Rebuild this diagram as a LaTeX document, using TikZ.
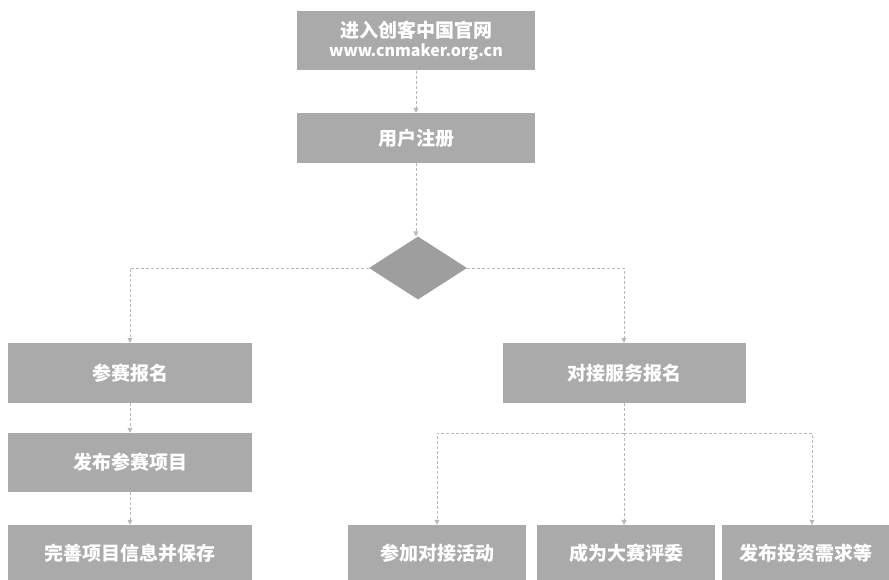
\documentclass[tikz,border=0pt]{standalone}
\usepackage{fontspec}
\newfontfamily\cjk{Noto Sans CJK SC}
\usetikzlibrary{shapes.geometric,arrows.meta}
\definecolor{boxgray}{RGB}{170,170,170}
\definecolor{diagray}{RGB}{158,158,158}
\definecolor{linegray}{RGB}{185,185,185}
\tikzset{
  box/.style={rectangle, fill=boxgray, text=white, inner sep=0pt, align=center,
    font=\cjk\bfseries\fontsize{19}{22}\selectfont},
  conn/.style={draw=linegray, line width=0.7pt, dash pattern=on 3pt off 2pt,
    -{Triangle[width=5pt,length=5pt,fill=linegray]}},
  plain/.style={draw=linegray, line width=0.7pt, dash pattern=on 3pt off 2pt}
}
\begin{document}
\begin{tikzpicture}[x=1pt,y=-1pt]
\useasboundingbox (0,0) rectangle (889,580);
\node[box, minimum width=238pt, minimum height=59pt] (top) at (416,41)
  {进入创客中国官网\\[-3pt]{\fontsize{16}{18}\selectfont www.cnmaker.org.cn}};
\node[box, minimum width=238pt, minimum height=50pt] (reg) at (416,138) {用户注册};
\node[diamond, fill=diagray, minimum width=98pt, minimum height=63pt, aspect=1.55, inner sep=0pt] (dia) at (418,268) {};
\node[box, minimum width=244pt, minimum height=60pt] (sign) at (130,373) {参赛报名};
\node[box, minimum width=243pt, minimum height=60pt] (dock) at (624,373) {对接服务报名};
\node[box, minimum width=244pt, minimum height=59pt] (pub) at (130,462.5) {发布参赛项目};
\node[box, minimum width=244pt, minimum height=56pt] (info) at (130,553) {完善项目信息并保存};
\node[box, minimum width=178pt, minimum height=56pt] (act) at (437,553) {参加对接活动};
\node[box, minimum width=178pt, minimum height=56pt] (judge) at (626,553) {成为大赛评委};
\node[box, minimum width=168pt, minimum height=56pt] (invest) at (806,553) {发布投资需求等};
\coordinate (split) at (624,433);
\draw[conn] (top) -- (reg);
\draw[conn] (reg.south) -- (reg.south |- dia.north);
\draw[conn] (dia.west) -| (sign.north);
\draw[conn] (dia.east) -| (dock.north);
\draw[conn] (sign) -- (pub);
\draw[conn] (pub) -- (info);
\draw[plain] (dock.south) -- (split);
\draw[conn] (split) -- (split |- judge.north);
\draw[conn] (split) -| (act.north);
\draw[conn] (split) -| ([xshift=6pt]invest.north);
\end{tikzpicture}
\end{document}
